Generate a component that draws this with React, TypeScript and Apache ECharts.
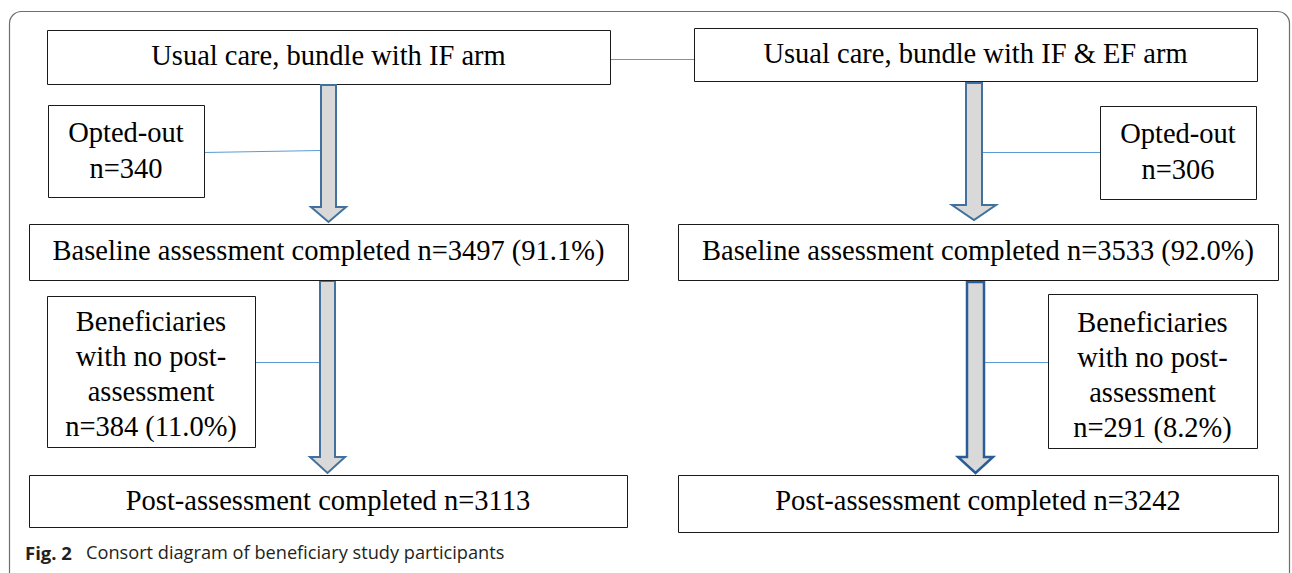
import React, { useEffect, useRef } from "react";
import * as echarts from "echarts";

// ---- diagram content (text data) ----
const armTitles = ["Usual care, bundle with IF arm", "Usual care, bundle with IF & EF arm"];
const optedOutCounts = [340, 306];
const baselineCounts = ["3497 (91.1%)", "3533 (92.0%)"];
const noPostCounts = ["384 (11.0%)", "291 (8.2%)"];
const postCounts = [3113, 3242];
const captionLabel = "Fig. 2";
const captionText = "Consort diagram of beneficiary study participants";

// ---- layout (positions) ----
const SERIF = "'Liberation Serif', 'Times New Roman', serif";
const FS = 28.5;

type Box = { x: number; y: number; w: number; h: number; ty: number };
const L = {
  title: [
    { x: 47, y: 30, w: 563, h: 54, ty: 55.5 },
    { x: 694, y: 28, w: 563, h: 53, ty: 53.5 },
  ] as Box[],
  opted: [
    { x: 48, y: 105, w: 156, h: 92, ty: 150 },
    { x: 1100, y: 106, w: 156, h: 93, ty: 151 },
  ] as Box[],
  base: [
    { x: 29, y: 224, w: 599, h: 56, ty: 250 },
    { x: 678, y: 224, w: 600, h: 56, ty: 250 },
  ] as Box[],
  noPost: [
    { x: 47, y: 296, w: 208, h: 151, ty: 374 },
    { x: 1048, y: 294, w: 209, h: 154, ty: 375 },
  ] as Box[],
  post: [
    { x: 29, y: 475, w: 598, h: 52, ty: 500 },
    { x: 678, y: 475, w: 600, h: 57, ty: 500 },
  ] as Box[],
  arrow1: [
    { x1: 321, x2: 336, top: 85, hy: 207, hx1: 311, hx2: 346, tip: 222 },
    { x1: 966, x2: 982, top: 83, hy: 205, hx1: 952, hx2: 996, tip: 220 },
  ],
  arrow2: [
    { x1: 320, x2: 335, top: 281, hy: 457, hx1: 310, hx2: 345, tip: 473 },
    { x1: 967, x2: 984, top: 282, hy: 457, hx1: 958, hx2: 993, tip: 473 },
  ],
};

function boxEl(b: Box, lines: string[], lineH = 35) {
  const cx = b.x + b.w / 2;
  const n = lines.length;
  return [
    {
      type: "rect",
      shape: { x: b.x + 0.5, y: b.y + 0.5, width: b.w, height: b.h },
      style: { fill: "#ffffff", stroke: "#1a1a1a", lineWidth: 1 },
    },
    ...lines.map((t, i) => ({
      type: "text",
      style: {
        text: t,
        x: cx,
        y: b.ty + (i - (n - 1) / 2) * lineH,
        font: `${FS}px ${SERIF}`,
        fill: "#000000",
        align: "center",
        verticalAlign: "middle",
        textAlign: "center",
        textVerticalAlign: "middle",
      },
    })),
  ];
}

function arrowEl(a: any, stroke: string, lw: number) {
  return {
    type: "polygon",
    shape: {
      points: [
        [a.x1, a.top],
        [a.x2, a.top],
        [a.x2, a.hy],
        [a.hx2, a.hy],
        [(a.x1 + a.x2) / 2, a.tip],
        [a.hx1, a.hy],
        [a.x1, a.hy],
      ],
    },
    style: { fill: "#d9d9d9", stroke, lineWidth: lw, lineJoin: "miter" },
  };
}

function lineEl(x1: number, y1: number, x2: number, y2: number) {
  return {
    type: "line",
    shape: { x1, y1, x2, y2 },
    style: { stroke: "#5b9bd5", lineWidth: 1 },
  };
}

export default function App() {
  const ref = useRef<HTMLDivElement>(null);
  useEffect(() => {
    document.body.style.margin = "0";
    const chart = echarts.init(ref.current!, null, { renderer: "svg" });
    const els: any[] = [];
    // outer frame
    els.push({
      type: "rect",
      shape: { x: 9.5, y: 11.5, width: 1280, height: 600, r: 12 },
      style: { fill: "#ffffff", stroke: "#6e6e6e", lineWidth: 1.2 },
    });
    // connectors
    els.push(lineEl(610, 59.5, 694, 59.5));
    els.push(lineEl(204, 152.5, 321, 150.5));
    els.push(lineEl(982, 152.5, 1100, 152.5));
    els.push(lineEl(255, 362.5, 320, 362.5));
    els.push(lineEl(984, 362.5, 1048, 362.5));
    for (let i = 0; i < 2; i++) {
      els.push(...boxEl(L.title[i], [armTitles[i]]));
      els.push(arrowEl(L.arrow1[i], "#41719c", 2));
      els.push(arrowEl(L.arrow2[i], i === 0 ? "#41719c" : "#2a5d98", i === 0 ? 2 : 2.5));
      els.push(...boxEl(L.opted[i], ["Opted-out", `n=${optedOutCounts[i]}`], 36));
      els.push(...boxEl(L.base[i], [`Baseline assessment completed n=${baselineCounts[i]}`]));
      els.push(
        ...boxEl(L.noPost[i], ["Beneficiaries", "with no post-", "assessment", `n=${noPostCounts[i]}`], 35.3)
      );
      els.push(...boxEl(L.post[i], [`Post-assessment completed n=${postCounts[i]}`]));
    }
    // caption
    els.push({
      type: "text",
      style: {
        text: captionLabel,
        x: 25,
        y: 552,
        font: `bold 18.5px 'Open Sans', 'Noto Sans', sans-serif`,
        fill: "#231f20",
        verticalAlign: "middle",
        textVerticalAlign: "middle",
      },
    });
    els.push({
      type: "text",
      style: {
        text: captionText,
        x: 86,
        y: 552,
        font: `18.2px 'Open Sans', 'Noto Sans', sans-serif`,
        fill: "#231f20",
        verticalAlign: "middle",
        textVerticalAlign: "middle",
      },
    });
    chart.setOption({ animation: false, graphic: { elements: els } });
    return () => chart.dispose();
  }, []);
  return <div ref={ref} style={{ width: 1292, height: 573 }} />;
}
